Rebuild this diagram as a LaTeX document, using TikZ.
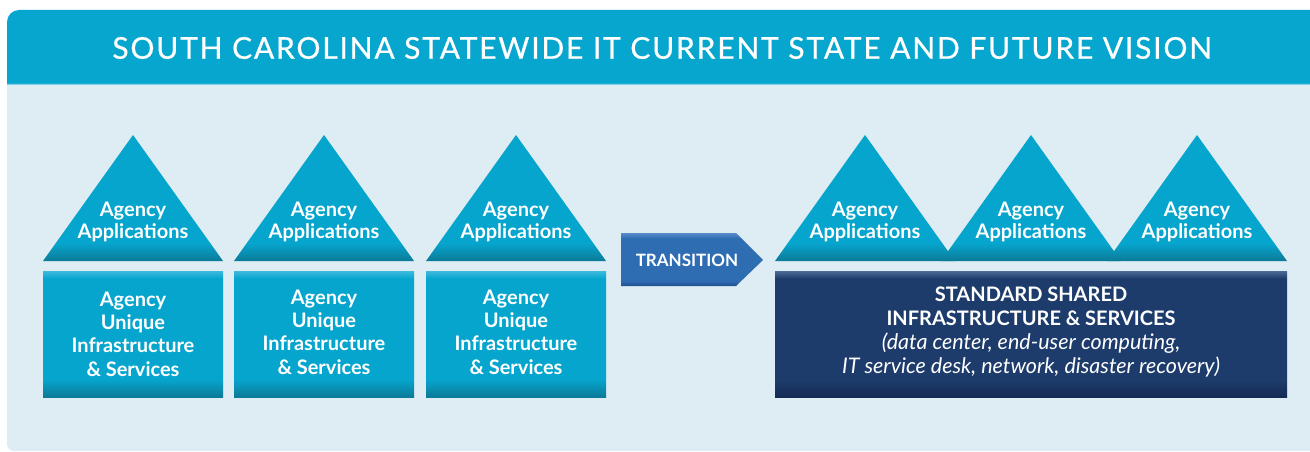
\documentclass[tikz,border=0pt]{standalone}
\usepackage{fontspec}
\setmainfont{Lato}
\usepackage{tikz}
\usetikzlibrary{positioning}
\definecolor{hdr}{RGB}{6, 166, 206}
\definecolor{pnl}{RGB}{222, 236, 243}
\definecolor{tl}{RGB}{6, 165, 205}
\definecolor{tldark}{RGB}{12, 122, 152}
\definecolor{tllight}{RGB}{62, 186, 221}
\definecolor{nv}{RGB}{29, 60, 108}
\definecolor{nvdark}{RGB}{20, 44, 84}
\definecolor{nvlight}{RGB}{78, 106, 150}
\definecolor{bl}{RGB}{47, 109, 179}
\definecolor{bldark}{RGB}{30, 80, 145}
\definecolor{bllight}{RGB}{88, 140, 204}
\pgfdeclareverticalshading{tltri}{100bp}{color(0bp)=(tldark); color(25bp)=(tldark); color(32bp)=(tl); color(100bp)=(tl)}
\pgfdeclareverticalshading{tlbox}{100bp}{color(0bp)=(tldark); color(25bp)=(tldark); color(32bp)=(tl); color(72bp)=(tl); color(75bp)=(tllight); color(100bp)=(tllight)}
\pgfdeclareverticalshading{nvbox}{100bp}{color(0bp)=(nvdark); color(25bp)=(nvdark); color(32bp)=(nv); color(72bp)=(nv); color(75bp)=(nvlight); color(100bp)=(nvlight)}
\pgfdeclareverticalshading{blarrow}{100bp}{color(0bp)=(bldark); color(25bp)=(bldark); color(30bp)=(bl); color(70bp)=(bl); color(75bp)=(bllight); color(100bp)=(bllight)}

\begin{document}
\begin{tikzpicture}[
  tri/.style={shading=tltri},
  agbox/.style={shading=tlbox},
  apptext/.style={text=white, align=center, inner sep=0pt, font=\bfseries\fontsize{20}{22}\selectfont},
  boxtext/.style={text=white, align=center, inner sep=0pt, font=\bfseries\fontsize{20}{23.3}\selectfont}]
\clip (0pt, 0pt) rectangle (1310pt, -452pt);
\fill [white] (0pt, 0pt) rectangle (1310pt, -452pt);
% frame
\fill [hdr] (7pt, -84pt) [rounded corners=12pt] -- (7pt, -10pt) [sharp corners] -- (1330pt, -10pt) -- (1330pt, -84pt) -- cycle;
\fill [pnl] (7pt, -84pt) [rounded corners=7pt] -- (7pt, -451pt) [sharp corners] -- (1330pt, -451pt) -- (1330pt, -84pt) -- cycle;
\draw [line width=1pt, color=tllight!60!pnl] (7pt, -84.5pt) -- (1330pt, -84.5pt);
\node (title) [text=white, inner sep=0pt, font=\fontsize{30}{32}\selectfont\addfontfeatures{LetterSpace=6, FakeBold=0.6}] at (662pt, -48pt) {SOUTH CAROLINA STATEWIDE IT CURRENT STATE AND FUTURE VISION};
% current state
\shade [tri] (43pt, -261pt) -- (133pt, -135pt) -- (223pt, -261pt) -- cycle;
\shade [tri] (234pt, -261pt) -- (324pt, -135pt) -- (414pt, -261pt) -- cycle;
\shade [tri] (426pt, -261pt) -- (516pt, -135pt) -- (606pt, -261pt) -- cycle;
\shade [agbox] (43pt, -271pt) rectangle (223pt, -397pt);
\shade [agbox] (234pt, -271pt) rectangle (414pt, -397pt);
\shade [agbox] (426pt, -271pt) rectangle (606pt, -397pt);
\node (app1) [apptext] at (133pt, -222pt) {Agency\\Applications};
\node (app2) [apptext] at (324pt, -222pt) {Agency\\Applications};
\node (app3) [apptext] at (516pt, -222pt) {Agency\\Applications};
\node (inf1) [boxtext] at (133pt, -334pt) {Agency\\Unique\\Infrastructure\\\& Services};
\node (inf2) [boxtext] at (324pt, -332pt) {Agency\\Unique\\Infrastructure\\\& Services};
\node (inf3) [boxtext] at (516pt, -332pt) {Agency\\Unique\\Infrastructure\\\& Services};
% transition
\shade [shading=blarrow] (621pt, -233pt) -- (736pt, -233pt) -- (763pt, -260pt) -- (736pt, -286pt) -- (621pt, -286pt) -- cycle;
\node (trans) [text=white, inner sep=0pt, font=\bfseries\fontsize{17}{18}\selectfont] at (687pt, -260pt) {TRANSITION};
% future vision
\shade [tri] (775pt, -261pt) -- (865pt, -135pt) -- (955pt, -261pt) -- cycle;
\shade [tri] (941pt, -261pt) -- (1031pt, -135pt) -- (1121pt, -261pt) -- cycle;
\shade [tri] (1107pt, -261pt) -- (1197pt, -135pt) -- (1287pt, -261pt) -- cycle;
\shade [shading=nvbox] (775pt, -271pt) rectangle (1287pt, -397pt);
\node (app4) [apptext] at (865pt, -222pt) {Agency\\Applications};
\node (app5) [apptext] at (1031pt, -222pt) {Agency\\Applications};
\node (app6) [apptext] at (1197pt, -222pt) {Agency\\Applications};
\node (shared) [text=white, align=center, inner sep=0pt, font=\fontsize{20}{23.7}\selectfont] at (1031pt, -332pt) {\textbf{STANDARD SHARED}\\\textbf{INFRASTRUCTURE \& SERVICES}\\{\fontsize{21.5}{23.7}\selectfont\itshape (data center, end-user computing,}\\{\fontsize{21.5}{23.7}\selectfont\itshape IT service desk, network, disaster recovery)}};
\end{tikzpicture}
\end{document}
